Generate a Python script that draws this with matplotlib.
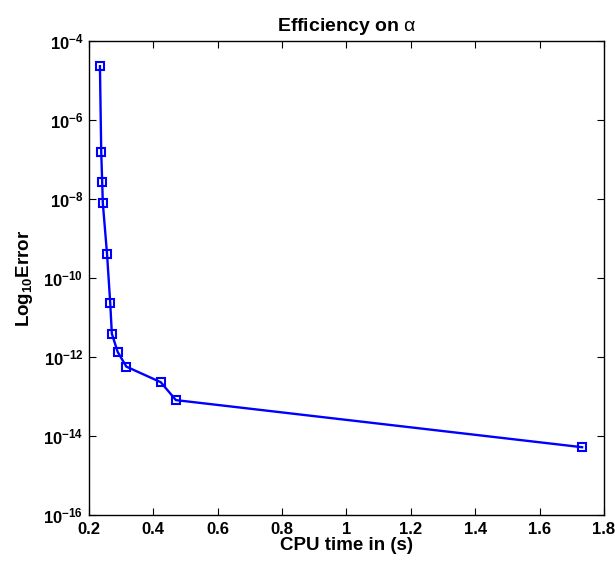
import math
import matplotlib
matplotlib.use('Agg')
import matplotlib.pyplot as plt
from matplotlib.ticker import FixedLocator, FuncFormatter, NullLocator

# values
cpu_time = [0.234, 0.238, 0.241, 0.243, 0.256, 0.266, 0.271, 0.289, 0.316, 0.423, 0.470, 1.732]
log_error = [2.3e-5, 1.55e-7, 2.7e-8, 7.8e-9, 4.1e-10, 2.3e-11, 3.9e-12, 1.35e-12,
             5.7e-13, 2.3e-13, 8.1e-14, 5.2e-15]
x_ticks = [0.2, 0.4, 0.6, 0.8, 1.0, 1.2, 1.4, 1.6, 1.8]
y_exponents = [-16, -14, -12, -10, -8, -6, -4]

plt.rcParams['font.family'] = ['Liberation Sans', 'DejaVu Sans']
plt.rcParams['mathtext.fontset'] = 'custom'
plt.rcParams['mathtext.rm'] = 'Liberation Sans'
plt.rcParams['mathtext.bf'] = 'Liberation Sans:bold'
plt.rcParams['mathtext.it'] = 'Liberation Sans:italic'

fig = plt.figure(figsize=(6.15, 5.65), dpi=100)
ax = fig.add_axes([0.1447, 0.0885, 0.8374, 0.839])

ax.plot(cpu_time, log_error, color='#0000ff', lw=1.7, marker='s', ms=6,
        mfc='none', mec='#0000ff', mew=1.5)

ax.set_yscale('log')
ax.set_xlim(0.2, 1.8)
ax.set_ylim(1e-16, 1e-4)

ax.xaxis.set_major_locator(FixedLocator(x_ticks))
ax.xaxis.set_major_formatter(FuncFormatter(lambda v, p: f'{v:g}'))
ax.yaxis.set_major_locator(FixedLocator([10.0 ** e for e in y_exponents]))
ax.yaxis.set_minor_locator(NullLocator())
ax.yaxis.set_major_formatter(FuncFormatter(
    lambda v, p: r'$\mathbf{10^{%d}}$' % round(math.log10(v))))

ax.tick_params(axis='x', labelsize=12, pad=5)
ax.tick_params(axis='y', labelsize=12, pad=4)
ax.tick_params(direction='in', length=5, width=0.8, top=True, right=True)
for lab in ax.get_xticklabels():
    lab.set_fontweight('bold')
for sp in ax.spines.values():
    sp.set_linewidth(1.0)

ax.set_xlabel('CPU time in (s)', fontsize=13.5, fontweight='bold', labelpad=0)
ax.set_ylabel(r'$\mathbf{Log_{10}Error}$', fontsize=13.5, labelpad=6)
ax.set_title(r'$\mathbf{Efficiency\ on}\ \mathrm{\alpha}$', fontsize=14, pad=7)

fig.savefig('out.png', dpi=100)
